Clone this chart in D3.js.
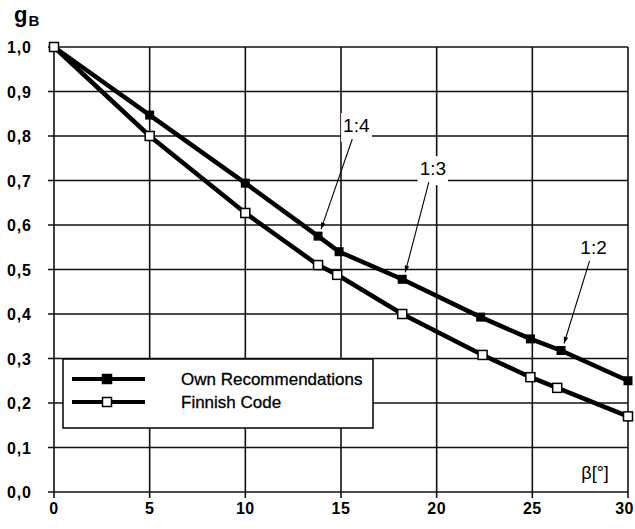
<!DOCTYPE html>
<html lang="en">
<head>
    <meta charset="UTF-8">
    <title>gB chart</title>
    <script src="https://unpkg.com/d3@7.8.5/dist/d3.min.js"></script>
    <style>
        * { margin: 0; padding: 0; box-sizing: border-box; }
        body { background: #fff; }
        svg { display: block; font-family: "Liberation Sans", Arial, sans-serif; }
    </style>
</head>
<body>
    <svg class="cc"></svg>
    <script>
        // 数据
        const ownX = [0, 5, 10, 13.8, 14.9, 18.2, 22.3, 24.9, 26.5, 30]
        const ownY = [1.0, 0.847, 0.694, 0.575, 0.54, 0.478, 0.393, 0.344, 0.318, 0.25]
        const finX = [0, 5, 10, 13.8, 14.8, 18.2, 22.4, 24.9, 26.3, 30]
        const finY = [1.0, 0.80, 0.627, 0.51, 0.488, 0.40, 0.308, 0.258, 0.234, 0.17]
        const xTicks = [0, 5, 10, 15, 20, 25, 30]
        const yTicks = [0, 0.1, 0.2, 0.3, 0.4, 0.5, 0.6, 0.7, 0.8, 0.9, 1.0]
        const legendNames = ['Own Recommendations', 'Finnish Code']
        // 标注: 文字, 文字位置, 指向的点 (Own 系列的序号)
        const notes = [
            { text: '1:4', x: 15.8, y: 0.809, target: 3 },
            { text: '1:3', x: 19.8, y: 0.712, target: 5 },
            { text: '1:2', x: 28.2, y: 0.535, target: 8 }
        ]

        const W = 635, H = 529
        const margin = { left: 54, right: 7, top: 47, bottom: 37 }

        const svg = d3.select('svg').attr('width', W).attr('height', H)

        const x = d3.scaleLinear().domain([0, 30]).range([margin.left, W - margin.right])
        const y = d3.scaleLinear().domain([0, 1]).range([H - margin.bottom, margin.top])

        const fmt = d => d3.format('.1f')(d).replace('.', ',')

        // 网格
        const grid = svg.append('g').attr('stroke', '#111').attr('stroke-width', 1.6)
        grid.selectAll('.gx').data(xTicks).enter().append('line')
            .attr('x1', d => x(d)).attr('x2', d => x(d))
            .attr('y1', y(1)).attr('y2', y(0) + 6)
        grid.selectAll('.gy').data(yTicks).enter().append('line')
            .attr('y1', d => y(d)).attr('y2', d => y(d))
            .attr('x1', x(0) - 6).attr('x2', x(30))

        // 坐标轴文字
        svg.append('g').selectAll('text').data(yTicks).enter().append('text')
            .attr('x', 7).attr('y', d => y(d) + 6)
            .attr('font-size', 16).attr('font-weight', 'bold')
            .attr('letter-spacing', 0.8)
            .text(fmt)
        svg.append('g').selectAll('text').data(xTicks).enter().append('text')
            .attr('x', d => x(d)).attr('y', H - 15)
            .attr('text-anchor', d => d === 30 ? 'end' : 'middle')
            .attr('dx', d => d === 30 ? 6 : 0)
            .attr('font-size', 16).attr('font-weight', 'bold')
            .attr('letter-spacing', 0.5)
            .text(d => d)

        // g_B
        const gb = svg.append('text').attr('x', 14).attr('y', 22)
            .attr('font-size', 22).attr('font-weight', 'bold')
        gb.append('tspan').text('g')
        gb.append('tspan').attr('font-size', 15).attr('dy', 4).attr('dx', 1).text('B')

        svg.append('text').attr('x', x(29)).attr('y', y(0.03))
            .attr('text-anchor', 'end').attr('font-size', 18)
            .text('β[°]')

        // 曲线
        const line = d3.line().x(d => x(d[0])).y(d => y(d[1]))
        const own = d3.zip(ownX, ownY)
        const fin = d3.zip(finX, finY)

        svg.append('path').datum(fin).attr('d', line)
            .attr('fill', 'none').attr('stroke', '#000').attr('stroke-width', 4.5)
        svg.append('path').datum(own).attr('d', line)
            .attr('fill', 'none').attr('stroke', '#000').attr('stroke-width', 4.5)

        const ms = 9
        svg.append('g').selectAll('rect').data(own).enter().append('rect')
            .attr('x', d => x(d[0]) - ms / 2).attr('y', d => y(d[1]) - ms / 2)
            .attr('width', ms).attr('height', ms).attr('fill', '#000')
        svg.append('g').selectAll('rect').data(fin).enter().append('rect')
            .attr('x', d => x(d[0]) - ms / 2).attr('y', d => y(d[1]) - ms / 2)
            .attr('width', ms).attr('height', ms)
            .attr('fill', '#fff').attr('stroke', '#000').attr('stroke-width', 1.5)

        // 箭头
        svg.append('defs').append('marker')
            .attr('id', 'arr').attr('viewBox', '0 0 10 10')
            .attr('refX', 10).attr('refY', 5)
            .attr('markerWidth', 10).attr('markerHeight', 6)
            .attr('orient', 'auto-start-reverse')
            .append('path').attr('d', 'M0,1.5 L10,5 L0,8.5 z').attr('fill', '#000')

        const ann = svg.append('g')
        notes.forEach(n => {
            const tx = x(n.x), ty = y(n.y)
            const t = ann.append('text').attr('x', tx).attr('y', ty)
                .attr('text-anchor', 'middle').attr('font-size', 19)
                .text(n.text)
            const bb = t.node().getBBox()
            ann.insert('rect', 'text')
                .attr('x', bb.x - 2).attr('y', bb.y - 2)
                .attr('width', bb.width + 4).attr('height', bb.height + 8)
                .attr('fill', '#fff')
            const px = x(ownX[n.target]) + 3, py = y(ownY[n.target]) - 7
            ann.append('line')
                .attr('x1', tx - 4).attr('y1', ty + 7)
                .attr('x2', px).attr('y2', py)
                .attr('stroke', '#000').attr('stroke-width', 1.1)
                .attr('marker-end', 'url(#arr)')
        })

        // 图例
        const lg = svg.append('g')
        lg.append('rect').attr('x', 63).attr('y', 359).attr('width', 310).attr('height', 69)
            .attr('fill', '#fff').attr('stroke', '#000').attr('stroke-width', 1.5)
        legendNames.forEach((name, i) => {
            const ly = 379 + i * 23
            lg.append('line').attr('x1', 72).attr('x2', 145).attr('y1', ly).attr('y2', ly)
                .attr('stroke', '#000').attr('stroke-width', 4)
            lg.append('rect').attr('x', 107 - ms / 2).attr('y', ly - ms / 2)
                .attr('width', ms).attr('height', ms)
                .attr('fill', i === 0 ? '#000' : '#fff')
                .attr('stroke', '#000').attr('stroke-width', 1.5)
            lg.append('text').attr('x', 181).attr('y', ly + 6)
                .attr('font-size', 17).attr('stroke', '#000').attr('stroke-width', 0.3)
                .text(name)
        })
    </script>
</body>
</html>
